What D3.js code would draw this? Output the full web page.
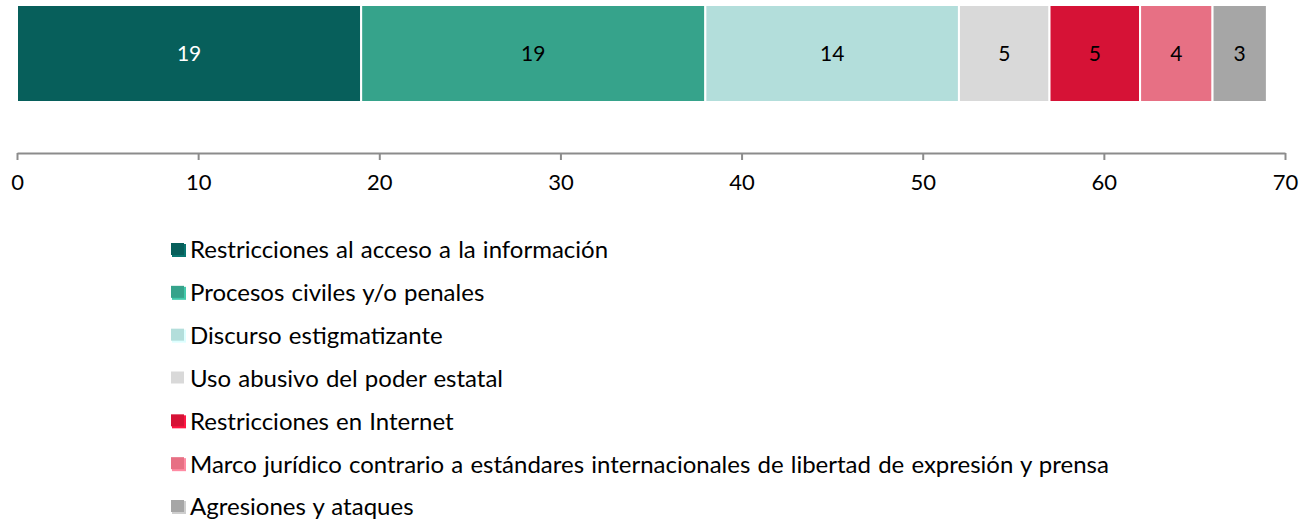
<!DOCTYPE html>
<html>
<head>
<meta charset="utf-8">
<script src="https://cdn.jsdelivr.net/npm/d3@7"></script>
<style>
  body { margin: 0; background: #fff; }
  svg { display: block; font-family: Lato, "Noto Sans", sans-serif; }
</style>
</head>
<body>
<div id="chart"></div>
<script>
// Données
const categories = [
  "Restricciones al acceso a la información",
  "Procesos civiles y/o penales",
  "Discurso estigmatizante",
  "Uso abusivo del poder estatal",
  "Restricciones en Internet",
  "Marco jurídico contrario a estándares internacionales de libertad de expresión y prensa",
  "Agresiones y ataques"
];
const values = [19, 19, 14, 5, 5, 4, 3];
const colors = ["#075f5b", "#36a38b", "#b3dedb", "#d9d9d9", "#d61236", "#e77084", "#a6a6a6"];
const labelColors = ["#fff", "#000", "#000", "#000", "#000", "#000", "#000"];
const ticks = [0, 10, 20, 30, 40, 50, 60, 70];

const width = 1311, height = 522;

const svg = d3.select("#chart").append("svg")
  .attr("width", width).attr("height", height);

const x = d3.scaleLinear().domain([0, 70]).range([17, 1285]);

// segments cumulés
let acc = 0;
const segs = values.map((v, i) => {
  const s = { start: acc, end: acc + v, v, i };
  acc += v;
  return s;
});

const barTop = 5, barH = 97;

svg.selectAll("rect.seg").data(segs).enter().append("rect")
  .attr("class", "seg")
  .attr("x", d => x(d.start))
  .attr("y", barTop)
  .attr("width", d => x(d.end) - x(d.start))
  .attr("height", barH)
  .attr("fill", d => colors[d.i])
  .attr("stroke", "#fff")
  .attr("stroke-width", 2);

svg.selectAll("text.val").data(segs).enter().append("text")
  .attr("class", "val")
  .attr("x", d => (x(d.start) + x(d.end)) / 2)
  .attr("y", barTop + barH / 2)
  .attr("dy", "0.35em")
  .attr("text-anchor", "middle")
  .style("font-size", "21px")
  .style("fill", d => labelColors[d.i])
  .text(d => d.v);

// Axe
const axis = d3.axisBottom(x).tickValues(ticks).tickSize(7).tickPadding(14).tickSizeOuter(0);
const gAxis = svg.append("g").attr("transform", "translate(0,153)").call(axis);
gAxis.select(".domain").attr("stroke", "#8c8c8c").attr("stroke-width", 2);
gAxis.selectAll(".tick line").attr("stroke", "#8c8c8c").attr("stroke-width", 2);
gAxis.selectAll(".tick text")
  .style("font-size", "22px")
  .style("font-family", "Lato, 'Noto Sans', sans-serif")
  .style("fill", "#000");

// Légende
const legend = svg.append("g");
const rowY = d3.scaleLinear().domain([0, 6]).range([250, 507]);

const items = legend.selectAll("g").data(categories).enter().append("g")
  .attr("transform", (d, i) => `translate(171,${rowY(i)})`);

items.append("rect")
  .attr("x", 1).attr("y", -6)
  .attr("width", 14).attr("height", 13)
  .attr("fill", (d, i) => d3.color(colors[i]).brighter(0.6));
items.append("rect")
  .attr("x", 0).attr("y", -7)
  .attr("width", 13).attr("height", 12)
  .attr("fill", (d, i) => colors[i]);

items.append("text")
  .attr("x", 19)
  .attr("y", 0)
  .attr("dy", "0.35em")
  .style("font-size", "24px")
  .style("word-spacing", "1px")
  .style("fill", "#000")
  .text(d => d);
</script>
</body>
</html>
